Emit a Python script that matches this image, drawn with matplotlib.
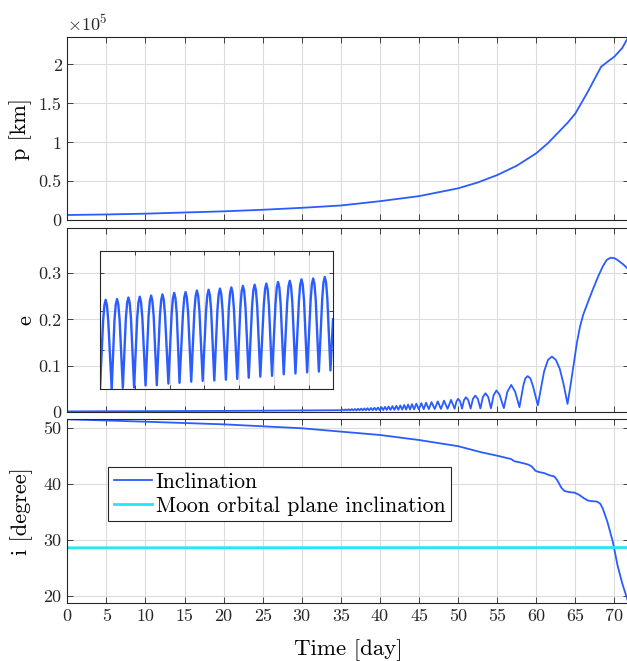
import numpy as np
import matplotlib
matplotlib.use('Agg')
import matplotlib.pyplot as plt
from matplotlib.ticker import FormatStrFormatter

plt.rcParams['font.family'] = 'cmr10'
plt.rcParams['mathtext.fontset'] = 'cm'
plt.rcParams['axes.unicode_minus'] = False

# semi-latus rectum p [km]
p_days = [0, 5, 10, 15, 20, 25, 30, 35, 40, 45, 50, 52.5, 55, 57.5, 60, 61.5,
          62.7, 64, 65, 66.6, 67.5, 68.3, 69.2, 70, 71, 71.8]
p_km = [6800, 7500, 8500, 10000, 11500, 13500, 16000, 19000, 24500, 31000,
        41000, 48500, 58000, 70000, 86000, 99000, 111500, 125000, 137000,
        165000, 182000, 197000, 204000, 210000, 221000, 235500]

# eccentricity (peaks / troughs of the oscillation)
e_days = [0, 10, 20, 30, 35.0,
          35.2, 35.4, 35.6, 35.8, 36.0, 36.2, 36.4, 36.6, 36.8, 37.0,
          37.2, 37.4, 37.6, 37.8, 38.0, 38.2, 38.4, 38.62, 38.85, 39.07,
          39.3, 39.52, 39.75, 39.97, 40.2, 40.42, 40.65, 40.87, 41.1, 41.35,
          41.6, 41.85, 42.1, 42.35, 42.6, 42.85, 43.1, 43.35, 43.6, 43.85,
          44.1, 44.37, 44.65, 44.97, 45.3, 45.6, 45.9, 46.25, 46.6, 47.0,
          47.4, 47.8, 48.2, 48.65, 49.1, 49.55,
          49.8, 50.0, 50.25, 50.5, 50.75, 51.0, 51.3, 51.6,
          51.9, 52.2, 52.52, 52.85, 53.17, 53.5, 53.85, 54.2,
          54.55, 54.9, 55.3, 55.85, 56.3, 56.8, 57.3, 57.85,
          58.35, 58.6, 58.9, 59.25, 59.6, 60.2, 61.0, 61.5, 62.0, 62.5, 63.0, 63.5, 64.0,
          64.4, 64.8, 65.2, 65.6, 66.0, 66.6, 67.2, 67.9, 68.5, 69.0, 69.5, 70.0,
          70.4, 71.1, 71.8]
e_vals = [0.002, 0.0025, 0.003, 0.004, 0.0045,
          0.006, 0.004, 0.0063, 0.004, 0.0066, 0.004, 0.0069, 0.004, 0.0072, 0.004,
          0.0076, 0.0042, 0.008, 0.0042, 0.0084, 0.0043, 0.0088, 0.0044, 0.0093, 0.0045,
          0.0098, 0.0046, 0.0104, 0.0047, 0.011, 0.0048, 0.0117, 0.0049, 0.0124, 0.005,
          0.0132, 0.0052, 0.014, 0.0054, 0.0149, 0.0056, 0.0158, 0.0058, 0.0167, 0.006,
          0.0176, 0.0062, 0.0186, 0.0064, 0.0197, 0.0066, 0.0208, 0.0068, 0.022, 0.007,
          0.0235, 0.0072, 0.025, 0.0074, 0.0268, 0.0076,
          0.024, 0.029, 0.024, 0.0078, 0.026, 0.0325, 0.026, 0.008,
          0.029, 0.036, 0.029, 0.0083, 0.033, 0.041, 0.033, 0.0086,
          0.037, 0.047, 0.038, 0.009, 0.044, 0.059, 0.044, 0.011,
          0.058, 0.073, 0.078, 0.073, 0.055, 0.015, 0.088, 0.113, 0.12, 0.113, 0.094, 0.06, 0.018,
          0.06, 0.105, 0.15, 0.185, 0.21, 0.237, 0.263, 0.292, 0.314, 0.328, 0.333, 0.332,
          0.328, 0.319, 0.308]

# zoomed window of e (inset, no labels), one oscillation per row
inset_x = [0.00,
           0.27, 0.38, 0.49, 0.60, 0.71, 1.01,
           1.25, 1.36, 1.47, 1.58, 1.69, 1.97,
           2.23, 2.34, 2.45, 2.56, 2.67, 2.94,
           3.21, 3.32, 3.43, 3.54, 3.65, 3.93,
           4.19, 4.30, 4.41, 4.52, 4.63, 4.90,
           5.17, 5.28, 5.39, 5.50, 5.61, 5.90,
           6.18, 6.29, 6.40, 6.51, 6.62, 6.86,
           7.16, 7.27, 7.38, 7.49, 7.60, 7.87,
           8.14, 8.25, 8.36, 8.47, 8.58, 8.86,
           9.15, 9.26, 9.37, 9.48, 9.59, 9.86,
           10.13, 10.24, 10.35, 10.46, 10.57, 10.86,
           11.11, 11.22, 11.33, 11.44, 11.55, 11.84,
           12.11, 12.22, 12.33, 12.44, 12.55, 12.83,
           13.12, 13.23, 13.34, 13.45, 13.56, 13.83,
           14.13, 14.24, 14.35, 14.46, 14.57, 14.84,
           15.14, 15.25, 15.36, 15.47, 15.58, 15.85,
           16.15, 16.26, 16.37, 16.48, 16.59, 16.86,
           17.16, 17.27, 17.38, 17.49, 17.60, 17.87,
           18.17, 18.28, 18.39, 18.50, 18.61, 18.88,
           19.17, 19.28, 19.39, 19.50, 19.61, 19.88,
           20.10]
inset_e = [0.00,
           1.77, 2.16, 2.30, 2.16, 1.77, 0.00,
           1.79, 2.18, 2.32, 2.18, 1.79, 0.03,
           1.82, 2.22, 2.36, 2.22, 1.83, 0.04,
           1.84, 2.24, 2.38, 2.24, 1.85, 0.09,
           1.88, 2.27, 2.41, 2.27, 1.88, 0.10,
           1.90, 2.30, 2.44, 2.30, 1.91, 0.14,
           1.94, 2.34, 2.48, 2.34, 1.95, 0.16,
           1.96, 2.36, 2.50, 2.36, 1.97, 0.19,
           2.00, 2.40, 2.54, 2.40, 2.00, 0.21,
           2.02, 2.42, 2.56, 2.42, 2.02, 0.22,
           2.04, 2.45, 2.59, 2.45, 2.05, 0.24,
           2.07, 2.48, 2.62, 2.48, 2.08, 0.26,
           2.11, 2.52, 2.66, 2.52, 2.11, 0.29,
           2.14, 2.55, 2.69, 2.55, 2.14, 0.32,
           2.17, 2.58, 2.72, 2.58, 2.17, 0.34,
           2.20, 2.62, 2.76, 2.62, 2.21, 0.38,
           2.24, 2.65, 2.79, 2.65, 2.24, 0.40,
           2.27, 2.69, 2.83, 2.69, 2.28, 0.43,
           2.29, 2.71, 2.85, 2.71, 2.30, 0.45,
           2.33, 2.75, 2.89, 2.75, 2.34, 0.48,
           1.80]

# inclination [deg]
i_days = [0, 10, 20, 30, 40, 45, 50, 53, 55, 56.8, 57.2, 57.6, 58.5, 59.0,
          59.4, 59.9, 60.3, 61.0, 61.7, 62.3, 62.7, 63.2, 63.6, 64.2, 64.9,
          65.5, 66.1, 66.6, 67.0, 67.8, 68.2, 68.5, 69.1, 69.8, 70.4, 71.0, 71.8]
i_deg = [51.5, 51.07, 50.6, 49.9, 48.7, 47.8, 46.7, 45.6, 45.0, 44.4, 44.0,
         43.9, 43.6, 43.4, 43.1, 42.3, 42.1, 41.9, 41.5, 41.3, 40.6, 39.3,
         38.7, 38.5, 38.4, 38.0, 37.4, 37.0, 36.9, 36.8, 36.4, 35.6, 33.2,
         29.6, 25.4, 22.2, 18.7]
moon_days = [0, 71.8]
moon_deg = [28.55, 28.6]

blue = '#2b5cff'
cyan = '#22e8f2'
dark = '#262626'

W, H = 627, 661
fig = plt.figure(figsize=(W / 100, H / 100), dpi=100)


def box(l, t, r, b):
    return [l / W, 1 - b / H, (r - l) / W, (b - t) / H]


ax1 = fig.add_axes(box(67.3, 36.7, 628.5, 220.3))
ax2 = fig.add_axes(box(67.3, 228, 628.5, 412.3))
ax3 = fig.add_axes(box(67.3, 419.3, 628.5, 602.7))
axin = fig.add_axes(box(100, 251, 333, 389))

for ax in (ax1, ax2, ax3, axin):
    ax.tick_params(direction='in', top=True, right=True, length=4.3, width=0.6,
                   colors=dark, labelsize=13, pad=4)
    ax.grid(True, color='#dcdcdc', linewidth=0.8)
    ax.set_axisbelow(True)
    for s in ax.spines.values():
        s.set_color(dark)
        s.set_linewidth(0.8)

xt = np.arange(0, 75, 5)
for ax in (ax1, ax2, ax3):
    ax.set_xlim(0, 71.8)
    ax.set_xticks(xt)
    ax.yaxis.set_major_formatter(FormatStrFormatter('%g'))
ax1.tick_params(labelbottom=False)
ax2.tick_params(labelbottom=False)

# p
ax1.plot(p_days, np.array(p_km) / 1e5, color=blue, lw=1.3)
ax1.set_ylim(0, 2.355)
ax1.set_yticks([0, 0.5, 1, 1.5, 2])
ax1.set_ylabel('p [km]', fontsize=16)
ax1.yaxis.set_label_coords(-0.063, 0.5)
ax1.text(0.0, 1.015, r'$\times 10^5$', transform=ax1.transAxes, fontsize=13,
         ha='left', va='bottom', color=dark)

# e
ax2.plot(e_days, e_vals, color=blue, lw=1.3)
ax2.set_ylim(0, 0.397)
ax2.set_yticks([0, 0.1, 0.2, 0.3])
ax2.set_ylabel('e', fontsize=16)
ax2.yaxis.set_label_coords(-0.056, 0.5)

axin.plot(inset_x, inset_e, color=blue, lw=1.7)
axin.set_xlim(0, 20.1)
axin.set_ylim(0, 3.56)
axin.set_xticks(np.arange(0, 19, 3))
axin.set_yticks([0, 1, 2, 3])
axin.tick_params(labelbottom=False, labelleft=False, length=3)

# inclination
ax3.plot(i_days, i_deg, color=blue, lw=1.3, label='Inclination')
ax3.plot(moon_days, moon_deg, color=cyan, lw=2.0, label='Moon orbital plane inclination')
ax3.set_ylim(18.75, 51.5)
ax3.set_yticks([20, 30, 40, 50])
ax3.set_ylabel('i [degree]', fontsize=16)
ax3.yaxis.set_label_coords(-0.061, 0.5)
ax3.set_xlabel('Time [day]', fontsize=16.5)
ax3.xaxis.set_label_coords(0.5, -0.2)
leg = ax3.legend(loc='upper left', bbox_to_anchor=(0.0733, 0.740), borderaxespad=0,
                 fontsize=15.7, fancybox=False, framealpha=1, edgecolor=dark,
                 handlelength=1.77, handletextpad=0.14, borderpad=0.25,
                 labelspacing=0.2)
leg.get_frame().set_linewidth(0.8)

fig.savefig('out.png', dpi=100)
